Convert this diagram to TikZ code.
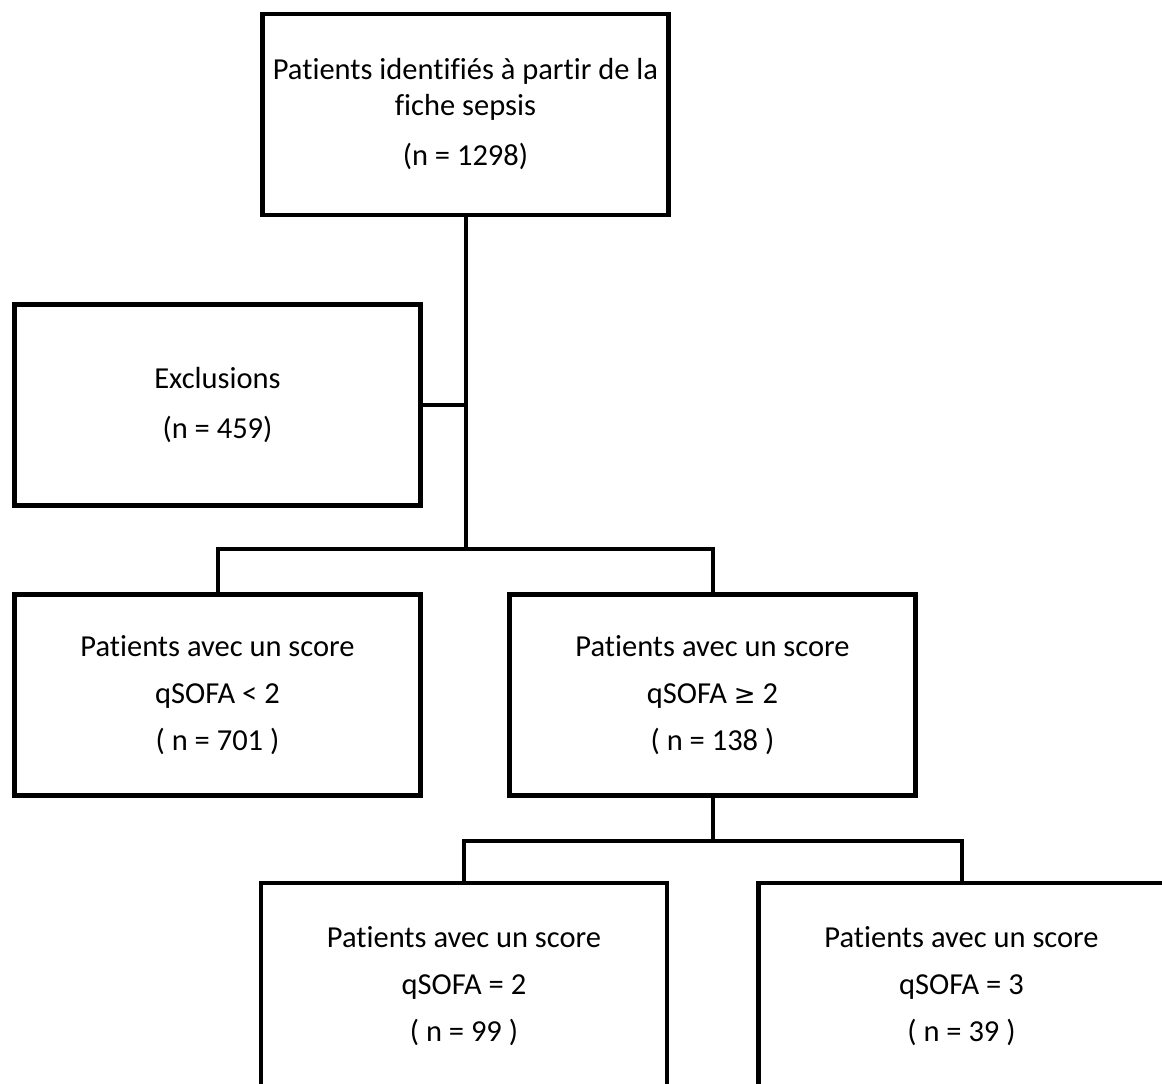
\documentclass[tikz,border=0pt]{standalone}
\usepackage{fontspec}
\setmainfont{Carlito}[Ligatures=NoCommon]
\newfontfamily\symfont{DejaVu Sans}
\usetikzlibrary{positioning,calc}

\begin{document}
\begin{tikzpicture}[x=1pt,y=-1pt,
  flowbox/.style={draw, line width=4.5pt, minimum width=406pt, minimum height=201pt,
    align=center, inner sep=0pt, font=\fontsize{30.5}{47}\selectfont},
  link/.style={line width=4pt}]
\useasboundingbox (0,0) rectangle (1162,1084);
\clip (0,0) rectangle (1162,1084);
% boxes
\node (fiche) [flowbox, font=\fontsize{30.5}{32}\selectfont] at (465.5,114.5)
  {Patients identifiés à partir de la\\[4pt]fiche sepsis\\[18pt](n = 1298)};
\node (excl) [flowbox] at (217.5,405) {Exclusions\\[3pt](n = 459)};
\node (low) [flowbox] at (217.5,695) {Patients avec un score\\qSOFA < 2\\( n = 701 )};
\node (high) [flowbox] at (712.5,695) {Patients avec un score\\qSOFA {\symfont\fontsize{26}{26}\selectfont ≥} 2\\( n = 138 )};
\node (two) [flowbox, minimum height=207pt] at (464,986.5) {Patients avec un score\\qSOFA = 2\\( n = 99 )};
\node (three) [flowbox, minimum height=207pt] at (961.5,986.5) {Patients avec un score\\qSOFA = 3\\( n = 39 )};
% connectors
\coordinate (split1) at (fiche.south |- 0,549);
\coordinate (split2) at (high.south |- 0,841);
\draw[link] (fiche.south) -- (split1);
\draw[link] (excl.east) -- (excl.east -| fiche.south);
\draw[link] (low.north) |- (split1) -| (high.north);
\draw[link] (high.south) -- (split2);
\draw[link] (two.north) |- (split2) -| (three.north);
\end{tikzpicture}
\end{document}
